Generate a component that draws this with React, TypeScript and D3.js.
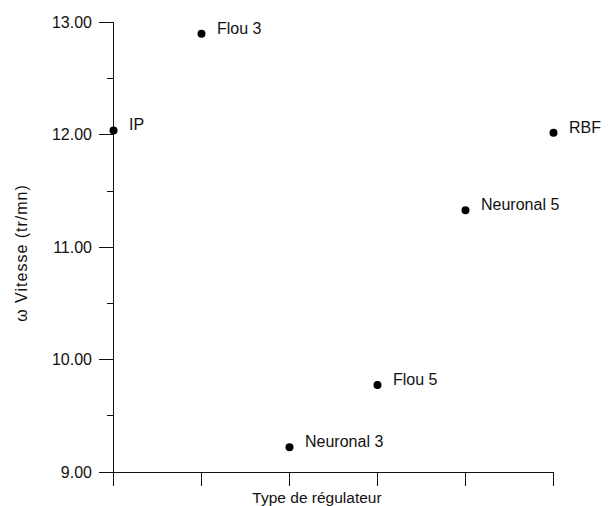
import React from "react";
import * as d3 from "d3";

const categories: string[] = ["IP", "Flou 3", "Neuronal 3", "Flou 5", "Neuronal 5", "RBF"];
const vitesse: number[] = [12.04, 12.9, 9.22, 9.775, 11.33, 12.02];
const yTicks: number[] = [9, 10, 11, 12, 13];
const yMinorTicks: number[] = [9.5, 10.5, 11.5, 12.5];
const yTitle = "ω Vitesse (tr/mn)";
const xTitle = "Type de régulateur";

const W = 614;
const H = 506;
const FONT = "'Liberation Sans', Arial, Helvetica, sans-serif";

export default function App() {
  const x = d3.scalePoint<string>().domain(categories).range([113.5, 553.5]);
  const y = d3.scaleLinear().domain([9, 13]).range([472, 22.5]);
  const x0 = x(categories[0]) as number;
  const x1 = x(categories[categories.length - 1]) as number;
  const yBottom = y(9);
  const yTop = y(13);

  return (
    <svg
      width={W}
      height={H}
      style={{ position: "fixed", left: 0, top: 0, background: "#fff" }}
      fontFamily={FONT}
    >
      <rect x={0} y={0} width={W} height={H} fill="#fff" />
      <g stroke="#111" strokeWidth={1} shapeRendering="crispEdges">
        <line x1={x0} x2={x0} y1={yTop} y2={yBottom + 14} />
        {yTicks.map((t) => (
          <line key={"yt" + t} x1={x0 - 15} x2={x0} y1={y(t)} y2={y(t)} />
        ))}
        {yMinorTicks.map((t) => (
          <line key={"ym" + t} x1={x0 - 7} x2={x0} y1={y(t)} y2={y(t)} />
        ))}
        <line x1={x0} x2={x1} y1={yBottom} y2={yBottom} />
        {categories.map((c) => (
          <line key={"xt" + c} x1={x(c) as number} x2={x(c) as number} y1={yBottom} y2={yBottom + 14} />
        ))}
      </g>
      {yTicks.map((t) => (
        <text
          key={"yl" + t}
          x={x0 - 21.5}
          y={y(t)}
          dy="0.35em"
          textAnchor="end"
          fontSize={16}
          fill="#111"
        >
          {d3.format(".2f")(t)}
        </text>
      ))}
      <text
        transform={`translate(27,253) rotate(-90)`}
        textAnchor="middle"
        fontSize={16}
        letterSpacing={1}
        fill="#111"
      >
        {yTitle}
      </text>
      <text x={317} y={503} textAnchor="middle" fontSize={15.5} fill="#111">
        {xTitle}
      </text>
      {categories.map((c, i) => {
        const cx = x(c) as number;
        const cy = y(vitesse[i]);
        return (
          <g key={"p" + c}>
            <circle cx={cx} cy={cy} r={4} fill="#000" />
            <text x={cx + 15.5} y={cy} fontSize={16} fill="#111">
              {c}
            </text>
          </g>
        );
      })}
    </svg>
  );
}
